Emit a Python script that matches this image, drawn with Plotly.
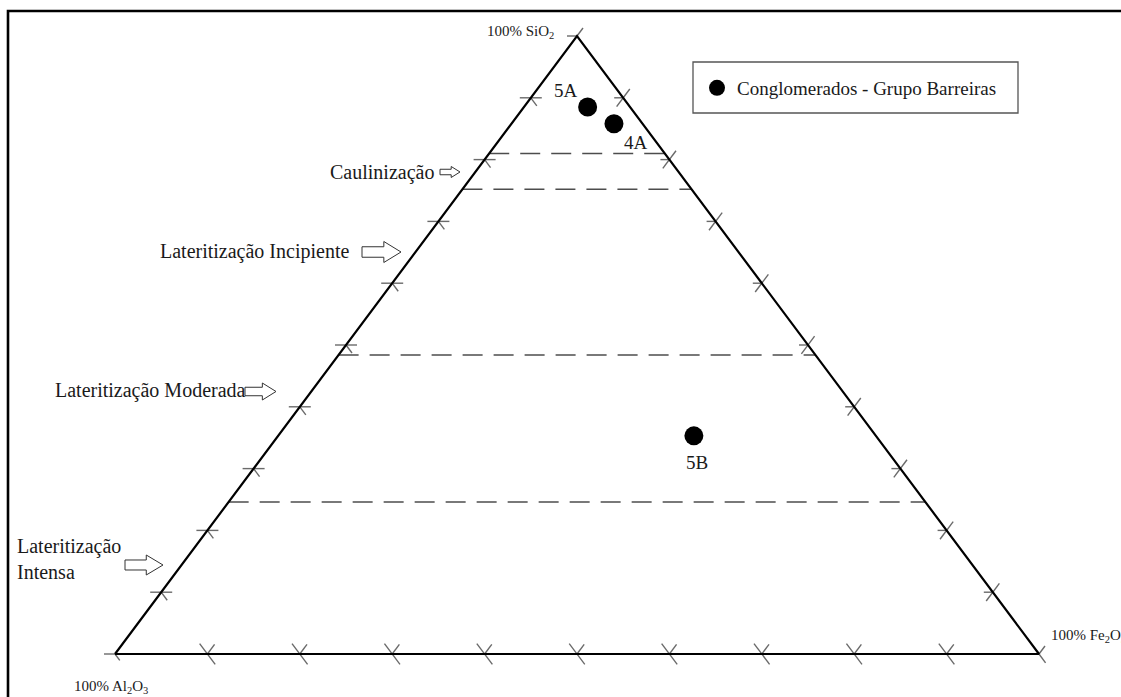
import plotly.graph_objects as go

# ---- Data (percentages) -------------------------------------------------
SAMPLES = ["5A", "4A", "5B"]
SIO2 = [88.5, 85.8, 35.3]
FE2O3 = [6.9, 11.1, 45.0]
AL2O3 = [4.6, 3.1, 19.7]

# Dashed boundaries between weathering classes (SiO2 %)
ZONE_LEVELS = [81.0, 75.2, 48.4, 24.6]

# Grid tick positions along each edge (%)
TICK_VALUES = [10, 20, 30, 40, 50, 60, 70, 80, 90]

# ---- Canvas / projection -----------------------------------------------
W, H = 1121, 697
X0, XSPAN = 115.0, 924.0      # pixel x of Al2O3 corner, width of base
Y0, YSPAN = 654.0, 618.0      # pixel y of base, height of triangle

x_range = [-X0 / XSPAN, (W - X0) / XSPAN]
y_range = [(Y0 - H) / YSPAN, Y0 / YSPAN]


def tern(si, fe):
    """Ternary (SiO2 %, Fe2O3 %) -> cartesian units of the plot."""
    s, f = si / 100.0, fe / 100.0
    return f + s / 2.0, s


def off(pt, dx_px, dy_px):
    """Shift a point by a screen offset given in pixels."""
    return pt[0] + dx_px / XSPAN, pt[1] - dy_px / YSPAN


def px(x, y):
    """Pixel position -> paper fraction."""
    return x / W, 1 - y / H


L = (462.0 ** 2 + 618.0 ** 2) ** 0.5
UP_RIGHT = (462.0 / L, -618.0 / L)     # parallel to Al2O3-SiO2 edge
DOWN_RIGHT = (462.0 / L, 618.0 / L)    # parallel to Fe2O3-SiO2 edge

fig = go.Figure()

# ---- Tick marks ---------------------------------------------------------
tx, ty = [], []


def seg(a, b):
    tx.extend([a[0], b[0], None])
    ty.extend([a[1], b[1], None])


for v in TICK_VALUES:
    # left edge (Al2O3 - SiO2)
    p = tern(v, 0)
    seg(off(p, -11, 0), off(p, 11, 0))
    seg(p, off(p, 10 * DOWN_RIGHT[0], 10 * DOWN_RIGHT[1]))
    # right edge (Fe2O3 - SiO2)
    p = tern(v, 100 - v)
    seg(off(p, -11 * UP_RIGHT[0], -11 * UP_RIGHT[1]),
        off(p, 11 * UP_RIGHT[0], 11 * UP_RIGHT[1]))
    seg(p, off(p, -9, 0))
    # base (Al2O3 - Fe2O3)
    p = tern(0, v)
    seg(off(p, -13 * DOWN_RIGHT[0], -13 * DOWN_RIGHT[1]),
        off(p, 13 * DOWN_RIGHT[0], 13 * DOWN_RIGHT[1]))
    seg(p, off(p, 12 * UP_RIGHT[0], 12 * UP_RIGHT[1]))

# corner stubs
apex, al_c, fe_c = tern(100, 0), tern(0, 0), tern(0, 100)
seg(apex, off(apex, -10, 0))
seg(apex, off(apex, 10 * UP_RIGHT[0], 10 * UP_RIGHT[1]))
seg(al_c, off(al_c, -11, 0))
seg(al_c, off(al_c, 8 * DOWN_RIGHT[0], 8 * DOWN_RIGHT[1]))
seg(fe_c, off(fe_c, 10 * UP_RIGHT[0], 10 * UP_RIGHT[1]))
seg(fe_c, off(fe_c, 11 * DOWN_RIGHT[0], 11 * DOWN_RIGHT[1]))

fig.add_trace(go.Scatter(x=tx, y=ty, mode="lines",
                         line=dict(color="#6a6a6a", width=1.4),
                         hoverinfo="skip", showlegend=False))

# ---- Dashed zone boundaries --------------------------------------------
for lvl in ZONE_LEVELS:
    a = tern(lvl, 0)
    b = tern(lvl, 100 - lvl)
    fig.add_trace(go.Scatter(x=[a[0], b[0]], y=[a[1], b[1]], mode="lines",
                             line=dict(color="#4d4d4d", width=1.5,
                                       dash="20px,11px"),
                             hoverinfo="skip", showlegend=False))

# ---- Triangle outline ---------------------------------------------------
corners = [al_c, fe_c, apex, al_c]
fig.add_trace(go.Scatter(x=[c[0] for c in corners], y=[c[1] for c in corners],
                         mode="lines", line=dict(color="black", width=2.2),
                         hoverinfo="skip", showlegend=False))

# ---- Samples ------------------------------------------------------------
pts = [tern(s, f) for s, f in zip(SIO2, FE2O3)]
fig.add_trace(go.Scatter(
    x=[p[0] for p in pts], y=[p[1] for p in pts],
    mode="markers", name="Conglomerados - Grupo Barreiras",
    marker=dict(color="black", size=19, line=dict(width=0)),
    customdata=list(zip(SIO2, AL2O3, FE2O3)), text=SAMPLES,
    hovertemplate="%{text}<br>SiO2 %{customdata[0]}%<br>"
                  "Al2O3 %{customdata[1]}%<br>Fe2O3 %{customdata[2]}%<extra></extra>",
))

SERIF = "Liberation Serif, Times New Roman, serif"
annotations = []

# sample labels
label_shift = {"5A": (-22, 17), "4A": (22, -19), "5B": (3, -27)}
for name, p in zip(SAMPLES, pts):
    dx, dy = label_shift[name]
    annotations.append(dict(x=p[0], y=p[1], xref="x", yref="y", text=name,
                            showarrow=False, xshift=dx, yshift=dy,
                            font=dict(family=SERIF, size=19, color="#1a1a1a")))

# corner labels
for txt, (cx, cy), anchor in [
    ("100% SiO<sub>2</sub>", (520, 32), "center"),
    ("100% Al<sub>2</sub>O<sub>3</sub>", (111, 687), "center"),
    ("100% Fe<sub>2</sub>O<sub>3</sub>", (1049, 636), "left"),
]:
    fx, fy = px(cx, cy)
    annotations.append(dict(x=fx, y=fy, xref="paper", yref="paper", text=txt,
                            showarrow=False, xanchor=anchor, yanchor="middle",
                            font=dict(family=SERIF, size=15, color="#1a1a1a")))

# zone labels
for txt, (cx, cy), anchor in [
    ("Caulinização", (328, 172), "left"),
    ("Lateritização Incipiente", (351, 251), "right"),
    ("Lateritização Moderada", (53, 390), "left"),
    ("Lateritização<br>Intensa", (15, 559), "left"),
]:
    fx, fy = px(cx, cy)
    annotations.append(dict(x=fx, y=fy, xref="paper", yref="paper", text=txt,
                            showarrow=False, xanchor=anchor, yanchor="middle",
                            align="left",
                            font=dict(family=SERIF, size=20, color="#1a1a1a")))

# ---- Outline arrows pointing at the zones ------------------------------
shapes = []


def block_arrow(x_left, x_right, yc, h):
    head = 0.44 * (x_right - x_left)
    xs = x_right - head
    sh = h * 0.25
    pts_px = [(x_left, yc - sh), (xs, yc - sh), (xs, yc - h / 2),
              (x_right, yc), (xs, yc + h / 2), (xs, yc + sh), (x_left, yc + sh)]
    path = "M " + " L ".join("%.5f,%.5f" % px(a, b) for a, b in pts_px) + " Z"
    return dict(type="path", xref="paper", yref="paper", path=path,
                line=dict(color="#333333", width=1), fillcolor="white")


for xl, xr, yc, h in [(440, 460, 172, 11), (362, 401, 252, 21),
                      (245, 276, 391.5, 17), (125, 163, 565, 20)]:
    shapes.append(block_arrow(xl, xr, yc, h))

# legend frame
lx0, ly0 = px(693, 62)
lx1, ly1 = px(1018, 113)
shapes.append(dict(type="rect", xref="paper", yref="paper",
                   x0=lx0, y0=ly1, x1=lx1, y1=ly0,
                   line=dict(color="#555555", width=1.3), fillcolor="rgba(0,0,0,0)"))

# page frame (top and left)
fa = px(8, H + 2)
fb = px(8, 11)
fc = px(W + 2, 11)
shapes.append(dict(type="path", xref="paper", yref="paper",
                   path="M %.5f,%.5f L %.5f,%.5f L %.5f,%.5f" % (*fa, *fb, *fc),
                   line=dict(color="black", width=2.6)))

leg_x, leg_y = px(697, 88)
fig.update_layout(
    width=W, height=H,
    margin=dict(l=0, r=0, t=0, b=0),
    paper_bgcolor="white", plot_bgcolor="white",
    xaxis=dict(range=x_range, visible=False, fixedrange=True),
    yaxis=dict(range=y_range, visible=False, fixedrange=True),
    showlegend=True,
    legend=dict(x=leg_x, y=leg_y, xanchor="left", yanchor="middle",
                bgcolor="rgba(0,0,0,0)", borderwidth=0,
                font=dict(family=SERIF, size=19, color="#1a1a1a"),
                itemsizing="trace"),
    annotations=annotations,
    shapes=shapes,
)

fig.write_html("out.html")
